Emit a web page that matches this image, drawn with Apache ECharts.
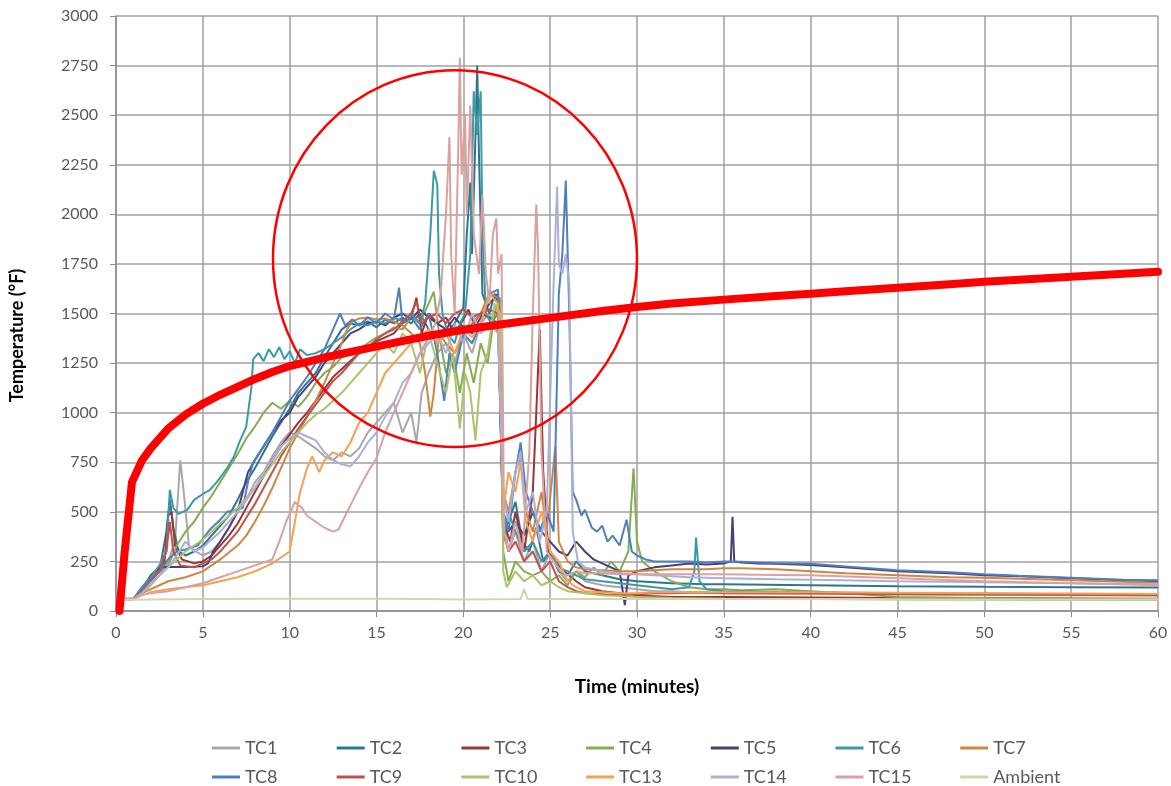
<!DOCTYPE html>
<html><head><meta charset="utf-8">
<script src="https://cdn.jsdelivr.net/npm/echarts@6/dist/echarts.min.js"></script>
<style>html,body{margin:0;padding:0;background:#fff}#c{width:1171px;height:786px}</style>
</head><body><div id="c"></div>
<script>
// ---- data (time in minutes, temperature in °F) ----
const xTicks = [0,5,10,15,20,25,30,35,40,45,50,55,60];
const yTicks = [0,250,500,750,1000,1250,1500,1750,2000,2250,2500,2750,3000];

const fireCurve = [[0.2,0],[0.5,300],[0.92,650],[1.5,760],[2,820],[3,920],[4,990],[5,1045],[6,1090],[7,1130],[8,1170],[9,1205],[10,1235],[12,1278],[14,1315],[16,1352],[18,1388],[20,1418],[22,1443],[25,1478],[28,1513],[30,1533],[32,1550],[35,1570],[38,1588],[40,1600],[42,1612],[45,1630],[48,1648],[50,1660],[52,1670],[55,1685],[58,1700],[60,1710]];

const TC1 = [[0.2,60],[1,65],[1.8,120],[2.5,180],[3,250],[3.4,350],[3.7,760],[3.9,600],[4.2,330],[4.6,300],[5,280],[5.5,300],[6,350],[6.5,420],[7,500],[7.5,560],[8,650],[8.5,700],[9,780],[9.5,850],[10,900],[10.5,880],[11,850],[11.5,820],[12,780],[12.5,760],[13,800],[13.5,780],[14,820],[14.5,900],[15,950],[15.5,1000],[16,1050],[16.5,900],[17,1000],[17.3,850],[17.6,1100],[18,1200],[18.5,1300],[19,1350],[19.5,1250],[20,1400],[20.5,1300],[21,1450],[21.5,1500],[22,1400],[22.3,500],[22.6,300],[23,400],[23.5,250],[24,350],[24.5,200],[25,300],[25.5,200],[26,150],[26.5,200],[27,150],[28,130],[29,120],[30,110],[31,100],[32,100],[33,95],[34,95],[35,90],[37,90],[40,88],[45,85],[50,82],[55,80],[60,78]];
const TC2 = [[0.2,55],[1,60],[1.5,110],[2,160],[2.5,200],[2.9,400],[3.1,560],[3.3,420],[3.6,300],[4,280],[4.5,300],[5,330],[5.5,380],[6,430],[6.5,480],[7,560],[7.5,650],[8,720],[8.5,800],[9,880],[9.5,950],[10,1020],[10.5,1100],[11,1150],[11.5,1200],[12,1280],[12.5,1350],[13,1420],[13.5,1450],[14,1440],[14.5,1460],[15,1430],[15.5,1470],[16,1450],[16.5,1480],[17,1450],[17.5,1500],[18,1420],[18.5,1350],[19,1400],[19.5,1450],[20,1530],[20.2,1900],[20.4,2160],[20.5,1800],[20.7,2400],[20.8,2750],[20.9,2300],[21.1,1600],[21.5,1500],[21.8,1600],[22,1550],[22.3,380],[22.6,450],[23,550],[23.4,350],[23.8,300],[24.2,420],[24.6,250],[25,300],[25.5,200],[26,180],[26.5,250],[27,200],[28,180],[29,160],[30,150],[31,145],[32,140],[33,138],[34,135],[35,135],[40,130],[45,125],[50,122],[55,120],[60,118]];
const TC3 = [[0.2,55],[1,60],[1.6,120],[2.2,180],[2.8,250],[3.0,480],[3.2,500],[3.4,330],[3.8,260],[4.5,240],[5,250],[5.5,280],[6,330],[6.5,380],[7,440],[7.5,520],[8,600],[8.5,680],[9,760],[9.5,830],[10,890],[10.5,950],[11,1000],[11.5,1060],[12,1120],[12.5,1180],[13,1220],[13.5,1260],[14,1300],[14.5,1330],[15,1360],[15.5,1380],[16,1400],[16.5,1450],[17,1480],[17.3,1580],[17.6,1400],[18,1500],[18.5,1450],[19,1480],[19.5,1400],[20,1470],[20.3,1520],[20.6,1450],[21,1500],[21.5,1480],[22,1450],[22.3,450],[22.7,350],[23,500],[23.5,300],[24,600],[24.2,1000],[24.4,1420],[24.6,700],[24.9,300],[25.3,250],[25.8,200],[26.5,150],[27,120],[28,100],[29,90],[30,80],[31,75],[32,70],[33,70],[34,70],[35,70],[40,68],[45,65],[50,65],[55,63],[60,62]];
const TC4 = [[0.2,55],[1,60],[1.5,120],[2,170],[2.5,200],[3,230],[3.5,330],[4,400],[4.5,450],[5,520],[5.5,580],[6,650],[6.5,720],[7,790],[7.5,870],[8,930],[8.5,1000],[9,1050],[9.5,1020],[10,1060],[10.5,1030],[11,1080],[11.5,1150],[12,1200],[12.5,1230],[13,1280],[13.5,1300],[14,1320],[14.5,1350],[15,1380],[15.5,1400],[16,1430],[16.5,1420],[17,1480],[17.5,1450],[18,1550],[18.3,1610],[18.6,1400],[19,1200],[19.4,1300],[19.8,1100],[20.2,1300],[20.6,1150],[21,1350],[21.4,1250],[21.8,1500],[22.1,1580],[22.3,300],[22.6,150],[23,250],[23.5,200],[24,180],[24.5,200],[25,150],[25.5,180],[26,130],[26.5,200],[27,170],[27.5,220],[28,180],[28.5,250],[29,200],[29.5,300],[29.8,720],[30,350],[30.3,250],[31,200],[32,150],[33,120],[34,110],[35,110],[36,105],[38,110],[40,100],[42,90],[45,70],[50,65],[55,62],[60,60]];
const TC5 = [[0.2,55],[1,60],[1.5,110],[2,180],[2.5,220],[3,222],[4,222],[5,225],[5.3,240],[5.6,300],[6,350],[6.5,420],[7,500],[7.3,600],[7.6,700],[8,760],[8.5,830],[9,900],[9.5,960],[10,1000],[10.5,1080],[11,1130],[11.5,1180],[12,1250],[12.5,1300],[13,1350],[13.5,1400],[14,1420],[14.5,1450],[15,1460],[15.5,1440],[16,1480],[16.5,1500],[17,1470],[17.5,1520],[18,1480],[18.5,1450],[19,1420],[19.5,1480],[20,1430],[20.5,1400],[21,1480],[21.5,1550],[22,1600],[22.3,500],[22.6,400],[23,450],[23.5,380],[24,500],[24.5,400],[25,350],[25.5,300],[26,280],[26.5,350],[27,300],[27.5,260],[28,240],[28.5,220],[29,200],[29.3,30],[29.5,180],[30,200],[31,220],[32,230],[33,240],[34,235],[35,240],[35.4,250],[35.5,475],[35.6,250],[36,245],[37,240],[38,238],[40,232],[42,220],[45,200],[48,190],[50,180],[52,175],[55,165],[58,155],[60,150]];
const TC6 = [[0.2,55],[1,60],[1.5,120],[2,170],[2.5,230],[2.9,300],[3.1,610],[3.3,520],[3.6,490],[4.1,510],[4.5,560],[5,590],[5.4,610],[5.8,650],[6.4,720],[6.8,780],[7.1,850],[7.5,930],[7.8,1130],[7.9,1270],[8.2,1300],[8.5,1260],[8.8,1320],[9.1,1280],[9.4,1330],[9.7,1270],[10,1310],[10.3,1250],[10.6,1320],[11,1290],[11.5,1300],[12,1320],[12.5,1350],[13,1380],[13.5,1420],[14,1450],[14.5,1440],[15,1460],[15.5,1450],[16,1480],[16.5,1460],[17,1500],[17.5,1450],[17.8,1550],[18.1,1900],[18.3,2220],[18.5,2150],[18.6,1700],[18.8,1500],[19.1,1400],[19.5,1350],[19.8,1450],[20.1,1500],[20.4,1800],[20.6,2620],[20.8,2400],[21,2620],[21.1,1900],[21.3,1500],[21.6,1450],[22,1500],[22.3,350],[22.6,500],[23,400],[23.5,300],[24,350],[24.5,250],[25,300],[25.5,220],[26,200],[26.5,180],[27,160],[28,150],[29,140],[30,130],[31,120],[32,110],[33,120],[33.3,200],[33.4,370],[33.6,150],[34,110],[35,100],[40,95],[45,90],[50,88],[55,85],[60,82]];
const TC7 = [[0.2,55],[1,60],[1.5,90],[2,110],[2.5,130],[3,150],[4,170],[5,200],[6,260],[7,330],[7.5,380],[8,450],[8.5,530],[9,620],[9.5,720],[10,820],[10.5,900],[11,980],[11.5,1060],[12,1150],[12.5,1250],[13,1350],[13.3,1420],[13.6,1460],[14,1475],[14.5,1480],[15,1470],[15.5,1475],[16,1460],[16.5,1440],[17,1400],[17.5,1350],[17.8,1200],[18.1,980],[18.3,1100],[18.6,1400],[19,1350],[19.5,1300],[20,1380],[20.5,1450],[21,1500],[21.5,1600],[22,1580],[22.3,600],[22.6,500],[23,700],[23.3,780],[23.6,500],[24,400],[24.5,600],[24.8,400],[25.3,830],[25.5,350],[26,250],[26.5,220],[27,210],[28,205],[29,200],[30,200],[31,205],[32,210],[33,210],[34,210],[35,215],[36,215],[38,210],[40,200],[42,190],[45,180],[48,170],[50,168],[52,162],[55,155],[58,148],[60,142]];
const TC8 = [[0.2,55],[1,60],[1.5,110],[2,160],[2.5,200],[3,260],[3.5,300],[4,310],[4.7,330],[5.4,410],[6,460],[6.4,500],[7,510],[7.3,520],[7.6,650],[7.9,750],[8.5,830],[9,900],[9.5,980],[10,1060],[10.5,1120],[11,1180],[11.5,1250],[12,1320],[12.5,1420],[12.9,1500],[13.2,1440],[13.6,1470],[14,1440],[14.5,1480],[15,1450],[15.5,1500],[16,1470],[16.3,1630],[16.5,1450],[17,1480],[17.5,1420],[18,1500],[18.5,1300],[18.9,1060],[19.2,1300],[19.5,1200],[20,1400],[20.5,1350],[21,1450],[21.5,1600],[22,1620],[22.3,500],[22.6,400],[23,700],[23.3,850],[23.6,600],[24,500],[24.4,400],[24.8,500],[25.2,400],[25.5,1600],[25.7,1800],[25.9,2170],[26.1,1500],[26.3,600],[26.5,560],[26.8,480],[27,510],[27.4,420],[27.7,400],[28,430],[28.3,350],[28.6,380],[29,330],[29.4,460],[29.7,300],[30,280],[30.5,260],[31,250],[32,250],[33,250],[34,245],[35,250],[36,248],[37,245],[38,242],[40,238],[42,225],[45,205],[48,195],[50,185],[52,178],[55,168],[58,158],[60,155]];
const TC9 = [[0.2,55],[1,60],[1.5,100],[2,150],[2.5,200],[2.9,300],[3.1,450],[3.3,300],[3.7,230],[4.5,220],[5,240],[5.5,260],[6,300],[6.5,350],[7,400],[7.5,470],[8,540],[8.5,620],[9,700],[9.5,780],[10,850],[10.5,920],[11,980],[11.5,1040],[12,1100],[12.5,1160],[13,1200],[13.5,1250],[14,1300],[14.5,1330],[15,1370],[15.5,1400],[16,1420],[16.5,1460],[17,1500],[17.3,1560],[17.6,1450],[18,1480],[18.5,1500],[19,1450],[19.5,1500],[20,1520],[20.5,1480],[21,1500],[21.5,1520],[22,1500],[22.3,400],[22.6,300],[23,350],[23.5,250],[24,300],[24.5,200],[25,250],[25.5,150],[26,120],[26.5,100],[27,90],[28,85],[29,80],[30,85],[31,90],[32,90],[33,92],[34,92],[35,90],[40,88],[45,85],[50,83],[55,82],[60,80]];
const TC10 = [[0.2,55],[1,60],[1.5,90],[2,130],[2.5,180],[3,220],[3.5,260],[4,300],[4.5,330],[5,360],[5.5,400],[6,440],[6.5,480],[7,520],[7.5,570],[8,620],[8.5,680],[9,740],[9.5,800],[10,850],[10.5,900],[11,950],[11.5,990],[12,1020],[12.5,1060],[13,1100],[13.5,1150],[14,1200],[14.5,1250],[15,1300],[15.5,1350],[16,1300],[16.5,1400],[17,1350],[17.5,1200],[18,1400],[18.5,1250],[19,1100],[19.4,1300],[19.8,920],[20.1,1200],[20.4,1100],[20.7,860],[21,1200],[21.4,1300],[21.8,1550],[22.1,1500],[22.3,200],[22.5,120],[23,200],[23.5,150],[24,180],[24.5,130],[25,150],[25.5,120],[26,100],[27,90],[28,80],[29,75],[30,70],[32,65],[35,62],[40,60],[45,58],[50,57],[55,56],[60,55]];
const TC13 = [[0.2,55],[1,60],[1.5,80],[2,95],[3,110],[4,120],[5,130],[6,150],[7,170],[8,200],[9,240],[9.5,270],[10,300],[10.3,450],[10.6,600],[11,720],[11.3,780],[11.7,700],[12,760],[12.5,800],[13,780],[13.5,850],[14,950],[14.5,1000],[15,1100],[15.5,1200],[16,1250],[16.5,1300],[17,1350],[17.5,1380],[18,1420],[18.5,1350],[19,1400],[19.5,1300],[20,1420],[20.5,1380],[21,1450],[21.5,1600],[22,1550],[22.3,500],[22.6,700],[23,600],[23.3,750],[23.6,450],[24,350],[24.5,500],[25,300],[25.5,250],[26,150],[26.5,120],[27,100],[28,95],[29,90],[30,90],[31,95],[32,95],[35,95],[40,95],[45,92],[50,90],[55,88],[60,86]];
const TC14 = [[0.2,55],[1,60],[1.5,90],[2,140],[2.5,180],[3,220],[3.5,280],[4,350],[4.5,300],[5,320],[5.5,360],[6,400],[6.5,450],[7,500],[7.5,560],[8,620],[8.5,700],[9,760],[9.5,830],[10,870],[10.5,900],[11,880],[11.5,860],[12,800],[12.5,760],[13,740],[13.5,730],[14,780],[14.5,850],[15,900],[15.5,980],[16,1050],[16.5,1150],[17,1200],[17.5,1300],[18,1350],[18.5,1400],[19,1300],[19.5,1450],[20,1350],[20.5,1500],[21,1400],[21.5,1450],[22,1400],[22.3,600],[22.6,450],[23,700],[23.3,800],[23.6,500],[24,600],[24.4,350],[24.8,500],[25.2,1650],[25.4,2140],[25.5,1750],[25.7,1700],[25.9,1800],[26.1,1650],[26.3,400],[26.6,250],[27,220],[28,200],[29,190],[30,185],[31,180],[32,175],[33,170],[35,165],[38,160],[40,158],[45,150],[50,145],[55,140],[60,135]];
const TC15 = [[0.2,55],[1,60],[1.5,80],[2,90],[3,100],[4,120],[5,140],[6,170],[7,200],[8,230],[9,260],[9.4,350],[9.8,450],[10.3,550],[10.7,520],[11,480],[11.5,450],[12,420],[12.5,400],[12.8,410],[13.2,480],[13.6,550],[14,620],[14.5,700],[15,770],[15.5,900],[16,1000],[16.5,1100],[17,1200],[17.5,1300],[18,1380],[18.4,1450],[18.7,1600],[19,2000],[19.2,2390],[19.3,1800],[19.5,1500],[19.7,2300],[19.8,2790],[19.9,2200],[20.1,2500],[20.2,2000],[20.4,2550],[20.6,1900],[20.9,1700],[21.1,2100],[21.3,1700],[21.5,1550],[21.7,1900],[21.9,1980],[22,1700],[22.2,1800],[22.35,400],[22.6,300],[23,450],[23.4,300],[23.8,800],[24.0,1500],[24.2,2050],[24.3,1835],[24.5,800],[24.8,300],[25.2,250],[25.6,200],[26,180],[26.5,200],[27,190],[28,190],[29,185],[30,185],[31,185],[32,185],[33,185],[35,185],[38,182],[40,180],[45,165],[50,150],[55,140],[60,130]];
const Ambient = [[0.2,55],[2,58],[5,60],[10,62],[15,62],[18,60],[20,58],[23.3,60],[23.5,110],[23.7,60],[25,60],[30,60],[40,60],[50,58],[60,58]];

// annotation ellipse in data units: centre [min, °F], radii [min, °F]
const circleCenter = [19.52, 1777];
const circleRadius = [10.48, 950];

const seriesNames = ['TC1','TC2','TC3','TC4','TC5','TC6','TC7','TC8','TC9','TC10','TC13','TC14','TC15','Ambient'];
const seriesData = [TC1,TC2,TC3,TC4,TC5,TC6,TC7,TC8,TC9,TC10,TC13,TC14,TC15,Ambient];
const seriesColors = ['#a8a8a8','#2f7590','#953735','#86ac52','#4a3f7a','#3b9aa8','#d08540','#4f7fbf','#c0504d','#a9c46c','#f7a050','#aab0d8','#dba0a0','#d9d2b0'];
const legendRows = [['TC1','TC2','TC3','TC4','TC5','TC6','TC7'],['TC8','TC9','TC10','TC13','TC14','TC15','Ambient']];

const FONT = 'Lato, "Open Sans", sans-serif';
const chart = echarts.init(document.getElementById('c'), null, {renderer:'canvas'});

const series = seriesNames.map((n,i)=>({
  name:n, type:'line', data:seriesData[i], showSymbol:false, symbol:'none',
  lineStyle:{width:2, color:seriesColors[i]}, itemStyle:{color:seriesColors[i]}, z:2, silent:true
}));
series.push({name:'Fire', type:'line', data:fireCurve, showSymbol:false, symbol:'none',
  lineStyle:{width:8, color:'#ff0000', cap:'round', join:'round'}, itemStyle:{color:'#ff0000'}, z:5, silent:true});

const legends = [];
legendRows.forEach((row,r)=>row.forEach((name,i)=>{
  legends.push({orient:'horizontal', left:212 + i*124.7, top:739 + r*29, padding:0,
    itemWidth:28, itemHeight:3, icon:'rect', selectedMode:false, data:[name],
    textStyle:{fontFamily:FONT, fontSize:18, color:'#595959'}});
}));

chart.setOption({
  animation:false,
  backgroundColor:'#fff',
  grid:{left:116, right:13, top:16, bottom:175, containLabel:false},
  legend:legends,
  xAxis:{type:'value', min:0, max:60, interval:5,
    name:'Time (minutes)', nameLocation:'middle', nameGap:66,
    nameTextStyle:{fontFamily:FONT, fontSize:19, fontWeight:'bold', color:'#000'},
    axisLine:{show:true, lineStyle:{color:'#8c8c8c', width:1.5}},
    axisTick:{show:true, length:6, lineStyle:{color:'#8c8c8c'}},
    axisLabel:{margin:14, fontFamily:FONT, fontSize:16, color:'#595959', formatter:v=>String(v)},
    splitLine:{show:true, lineStyle:{color:'#a0a0a0', width:1.5}}
  },
  yAxis:{type:'value', min:0, max:3000, interval:250,
    name:'Temperature (°F)', nameLocation:'middle', nameGap:90,
    nameTextStyle:{fontFamily:FONT, fontSize:18, fontWeight:'bold', color:'#000', padding:[0,44,0,0]},
    axisLine:{show:true, lineStyle:{color:'#8c8c8c', width:1.5}},
    axisTick:{show:true, length:6, lineStyle:{color:'#8c8c8c'}},
    axisLabel:{margin:18, fontFamily:FONT, fontSize:16, color:'#595959', formatter:v=>String(v)},
    splitLine:{show:true, lineStyle:{color:'#a0a0a0', width:1.5}}
  },
  series:series
});

const c = chart.convertToPixel({gridIndex:0}, circleCenter);
const ex = chart.convertToPixel({gridIndex:0}, [circleCenter[0]+circleRadius[0], circleCenter[1]]);
const ey = chart.convertToPixel({gridIndex:0}, [circleCenter[0], circleCenter[1]+circleRadius[1]]);
chart.setOption({graphic:[{type:'ellipse', z:100, silent:true,
  shape:{cx:c[0], cy:c[1], rx:Math.abs(ex[0]-c[0]), ry:Math.abs(c[1]-ey[1])},
  style:{fill:'none', stroke:'#ff0000', lineWidth:2.5}}]});
</script></body></html>
